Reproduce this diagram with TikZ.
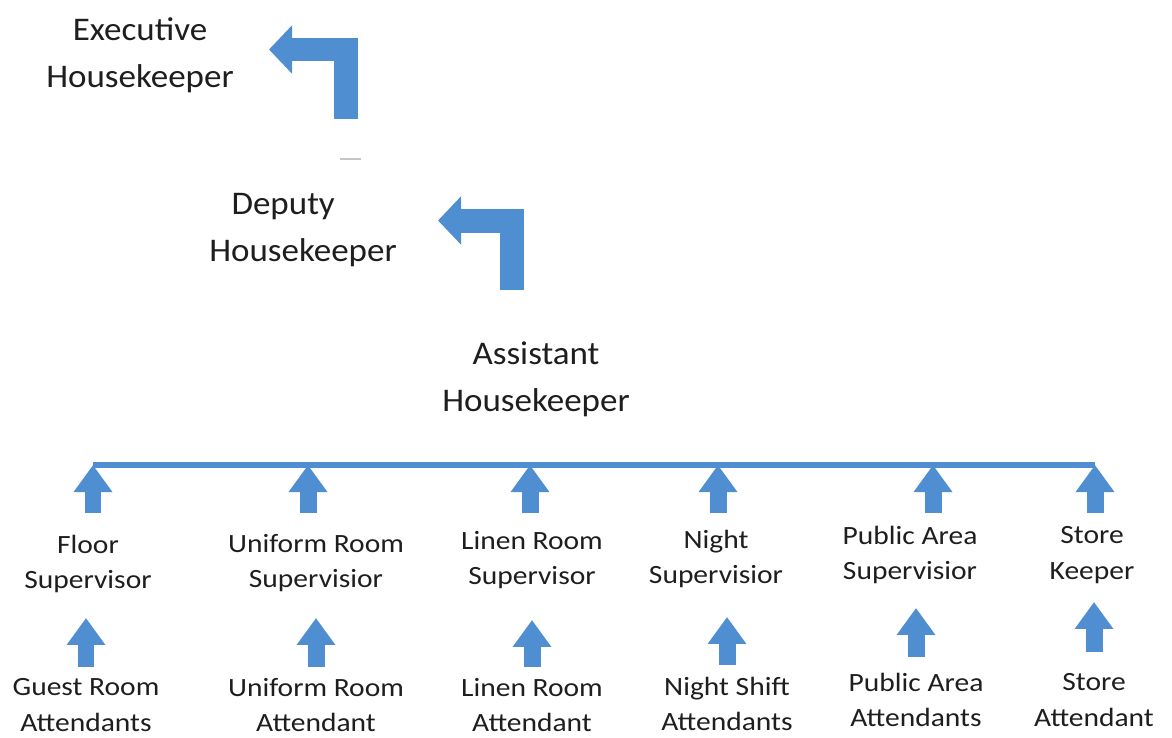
\documentclass[tikz,border=0pt]{standalone}
\usepackage{fontspec}
\setmainfont{Carlito}
\newfontfamily\topfont[FakeStretch=1.06]{Carlito}
\newfontfamily\lowfont[FakeStretch=1.12]{Carlito}
\usetikzlibrary{arrows.meta}
\definecolor{chartblue}{RGB}{79,142,208}
\definecolor{inkgray}{RGB}{30,30,30}
\tikzset{
  toplabel/.style={align=center,inner sep=0pt,text=inkgray,font=\topfont\fontsize{18.8}{26.6}\selectfont},
  lowlabel/.style={align=center,inner sep=0pt,text=inkgray,font=\lowfont\fontsize{15}{20.4}\selectfont},
  bentarrow/.style={draw=chartblue,line width=0.48cm,line join=miter,-{Triangle[length=0.46cm,width=0.94cm]}},
  uparrow/.style={draw=chartblue,line width=0.34cm,-{Triangle[length=0.54cm,width=0.74cm]}},
  barline/.style={draw=chartblue,line width=0.12cm}
}

\begin{document}
\begin{tikzpicture}[x=0.02cm,y=-0.02cm]
   \useasboundingbox (0,0) rectangle (1172,737) ;
   % top of the chart
   \node[toplabel] (eh) at (140,55.5) {Executive\\Housekeeper} ;
   \node[toplabel] (dh) at (303,230) {Deputy\hspace*{1.2em}\\Housekeeper} ;
   \node[toplabel] (ah) at (536,379.5) {Assistant\\Housekeeper} ;
   \coordinate (a1s) at (345.5,119) ; \coordinate (a1e) at (269,49.5) ;
   \coordinate (a2s) at (512,290) ; \coordinate (a2e) at (438,220.5) ;
   \draw[bentarrow] (a1s) |- (a1e) ;
   \draw[bentarrow] (a2s) |- (a2e) ;
   \draw[gray!45,line width=0.05cm] (340,159) -- (361,159) ;
   % the bar
   \coordinate (c1) at (93,465) ; \coordinate (c2) at (308,465) ;
   \coordinate (c3) at (530,465) ; \coordinate (c4) at (718,465) ;
   \coordinate (c5) at (933,465) ; \coordinate (c6) at (1095,465) ;
   \draw[barline] (c1) -- (c6) ;
   % supervisors
   \node[lowlabel] (fs) at (88,564) {Floor\\Supervisor} ;
   \node[lowlabel] (urs) at (316,563) {Uniform Room\\Supervisior} ;
   \node[lowlabel] (lrs) at (532,560) {Linen Room\\Supervisor} ;
   \node[lowlabel] (ns) at (716,559) {Night\\Supervisior} ;
   \node[lowlabel] (pas) at (910,555) {Public Area\\Supervisior} ;
   \node[lowlabel] (sk) at (1092,555) {Store\\Keeper} ;
   % attendants
   \node[lowlabel] (gra) at (86,705) {Guest Room\\Attendants} ;
   \node[lowlabel] (ura) at (316,705) {Uniform Room\\Attendant} ;
   \node[lowlabel] (lra) at (532,705) {Linen Room\\Attendant} ;
   \node[lowlabel] (nsa) at (727,704) {Night Shift\\Attendants} ;
   \node[lowlabel] (paa) at (916,700) {Public Area\\Attendants} ;
   \node[lowlabel] (sa) at (1094,700) {Store\\Attendant} ;
   % arrows
   \foreach \c/\n/\sh in {c1/fs/1.02,c2/urs/1.00,c3/lrs/0.94,c4/ns/0.92,c5/pas/0.84,c6/sk/0.84}
      \draw[uparrow,shorten <=\sh cm] (\c |- \n) -- (\c) ;
   \foreach \lo/\hi/\sa/\sb in {gra/fs/0.76/1.08,ura/urs/0.76/1.10,lra/lrs/0.76/1.20,
                               nsa/ns/0.78/1.16,paa/pas/0.86/1.06,sa/sk/0.96/0.94}
      \draw[uparrow,shorten <=\sa cm,shorten >=\sb cm] (\lo.center) -- (\lo |- \hi) ;
\end{tikzpicture}
\end{document}
